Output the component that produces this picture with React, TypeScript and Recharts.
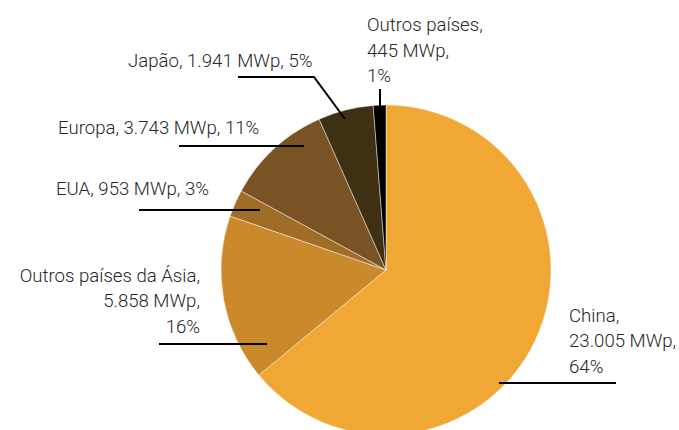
import { PieChart, Pie, Cell } from 'recharts'

const COUNTRIES = ['China', 'Outros países da Ásia', 'EUA', 'Europa', 'Japão', 'Outros países']
const CAPACITY_MWP = [23005, 5858, 953, 3743, 1941, 445]
const SHARE_PCT = [64, 16, 3, 11, 5, 1]
const SLICE_COLORS = ['#F0A733', '#CA8A2C', '#A06D27', '#7A5324', '#3F3014', '#000000']

// label placement relative to pie centre: leader points, text x, baselines, anchor
const LABEL_LAYOUT = [
  { pts: [[113, 113], [230, 113]], x: 183, ys: [52, 77, 103], anchor: 'start', stacked: true },
  { pts: [[-227, 74], [-119, 74]], x: -186, ys: [12, 37, 63], anchor: 'end', stacked: true },
  { pts: [[-247, -60], [-126, -60]], x: -330, ys: [-75], anchor: 'start', stacked: false },
  { pts: [[-207, -124], [-82, -124]], x: -328, ys: [-136], anchor: 'start', stacked: false },
  { pts: [[-148, -193], [-72, -193], [-41, -151]], x: -258, ys: [-203], anchor: 'start', stacked: false },
  { pts: [[-6, -181], [-6, -163]], x: -19, ys: [-239, -213, -188], anchor: 'start', stacked: true },
]

const fmt = (n: number) => String(n).replace(/\B(?=(\d{3})+(?!\d))/g, '.')

const data = COUNTRIES.map((name, i) => ({ name, value: CAPACITY_MWP[i], pct: SHARE_PCT[i] }))

function renderLabel(props: any) {
  const { cx, cy, index } = props
  const lay = LABEL_LAYOUT[index]
  const d = data[index]
  const parts = [`${d.name},`, `${fmt(d.value)} MWp,`, `${d.pct}%`]
  const lines = lay.stacked ? parts : [parts.join(' ')]
  const points = lay.pts.map(([x, y]) => `${cx + x},${cy + y}`).join(' ')
  return (
    <g key={`lbl-${index}`}>
      <polyline points={points} fill="none" stroke="#000" strokeWidth={2} />
      {lines.map((t, j) => (
        <text
          key={j}
          x={cx + lay.x}
          y={cy + lay.ys[j]}
          textAnchor={lay.anchor as any}
          fill="#262626"
          fontSize={18.6}
          fontWeight={300}
          fontFamily="Roboto, 'Noto Sans', sans-serif"
        >
          {t}
        </text>
      ))}
    </g>
  )
}

export default function App() {
  return (
    <div style={{ position: 'absolute', left: 0, top: 0, width: 679, height: 430, background: '#fff' }}>
      <PieChart width={679} height={430} margin={{ top: 0, right: 0, bottom: 0, left: 0 }}>
        <Pie
          data={data}
          dataKey="value"
          cx={386}
          cy={270}
          outerRadius={165}
          startAngle={90}
          endAngle={-270}
          stroke="#ffffff"
          strokeOpacity={0.45}
          strokeWidth={1}
          label={renderLabel}
          labelLine={false}
          isAnimationActive={false}
        >
          {data.map((entry, i) => (
            <Cell key={entry.name} fill={SLICE_COLORS[i]} />
          ))}
        </Pie>
      </PieChart>
    </div>
  )
}
